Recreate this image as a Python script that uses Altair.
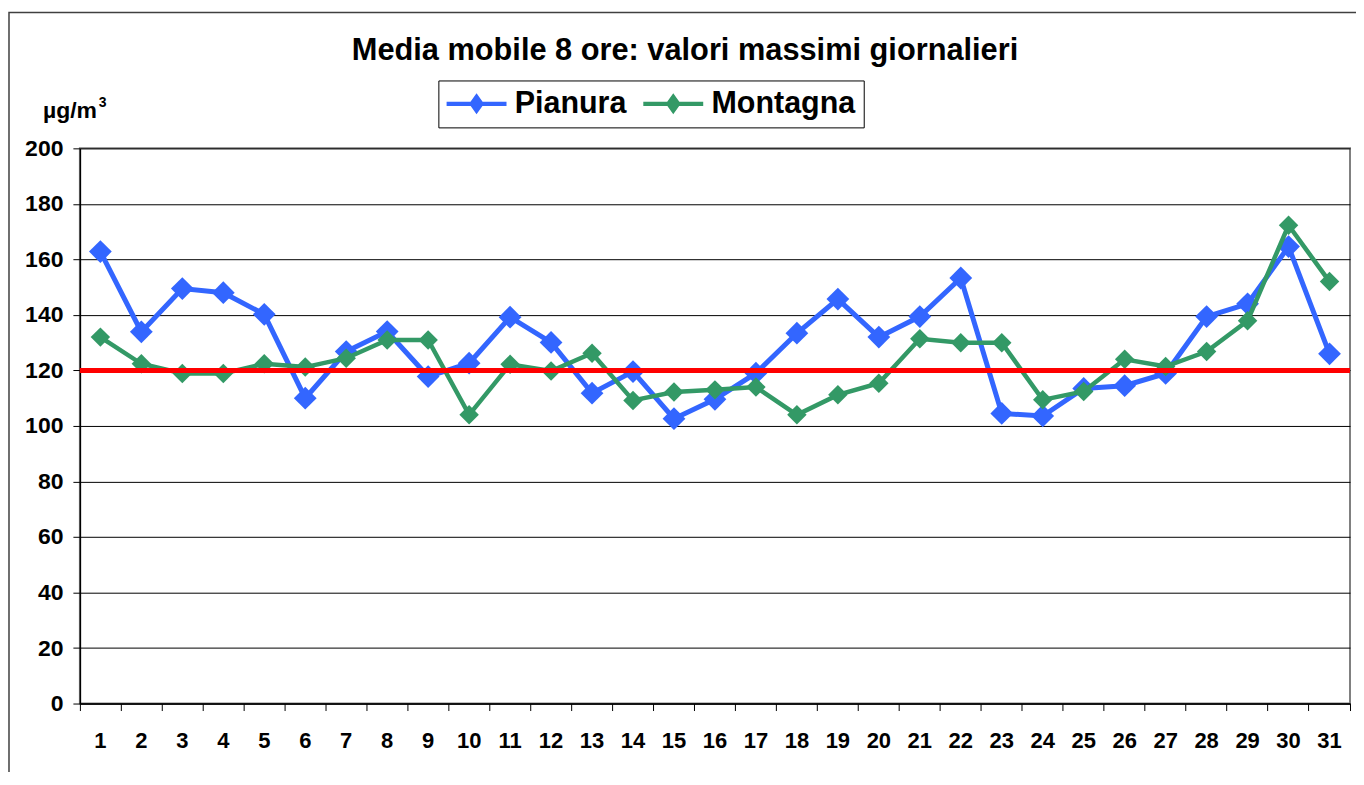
import altair as alt
import pandas as pd

days = list(range(1, 32))
pianura = [162.8, 133.9, 149.5, 148.0, 140.2, 110.0, 126.8, 134.0, 117.8, 122.6,
           139.2, 130.1, 111.8, 119.6, 102.6, 109.6, 119.0, 133.4, 145.7, 132.0,
           139.4, 153.3, 104.5, 103.6, 113.5, 114.5, 118.9, 139.4, 144.0, 164.6, 126.0]
montagna = [132.0, 122.4, 118.9, 118.9, 122.4, 121.2, 124.4, 131.0, 131.0, 104.0,
            122.2, 119.8, 126.2, 109.2, 112.2, 113.0, 114.0, 104.0, 111.2, 115.4,
            131.4, 130.0, 130.0, 109.4, 112.4, 124.0, 121.4, 126.8, 137.9, 172.3, 152.0]
series_names = ["Pianura", "Montagna"]
series_colors = ["#3366FF", "#339966"]
limit_value = [120]
y_ticks = list(range(0, 201, 20))
title_text = ["Media mobile 8 ore: valori massimi giornalieri"]
unit_text = ["µg/m"]
unit_sup = ["3"]

FONT = "Liberation Sans"

df = pd.DataFrame({
    "day": days * 2,
    "value": pianura + montagna,
    "series": [series_names[0]] * len(days) + [series_names[1]] * len(days),
})

# legend glyph: line with a diamond, drawn to the right of the symbol centre
legend_symbol = ("M-1,-0.14L3,-0.14L3,0.14L-1,0.14Z "
                 "M1,-0.7L1.5,0L1,0.7L0.5,0Z")

x_enc = alt.X("day:O", scale=alt.Scale(type="band", paddingInner=0, paddingOuter=0),
              axis=alt.Axis(title=None, labelAngle=0, labelFont=FONT, labelFontSize=22,
                            labelFontWeight="bold", labelColor="black", tickSize=7,
                            tickColor="black", domainColor="black", domainWidth=1.5,
                            bandPosition=1, tickExtra=True, labelPadding=20, grid=False))
y_enc = alt.Y("value:Q", scale=alt.Scale(domain=[0, 200], nice=False, zero=True),
              axis=alt.Axis(values=y_ticks, title=None, labelFont=FONT, labelFontSize=23,
                            labelFontWeight="bold", labelColor="black", tickSize=7,
                            tickColor="black", labelPadding=10, grid=True, gridColor="black",
                            gridWidth=1, domainColor="black", domainWidth=1.5))
color_scale = alt.Scale(domain=series_names, range=series_colors)
legend = alt.Legend(orient="none", legendX=359, legendY=-68, direction="horizontal",
                    title=None, labelFont=FONT, labelFontSize=30.5, labelFontWeight="bold",
                    labelColor="black", symbolType=legend_symbol, symbolSize=900,
                    symbolStrokeWidth=0, symbolOpacity=1, strokeColor="black", padding=8,
                    columnPadding=16, labelOffset=38, fillColor="white")
color_enc = alt.Color("series:N", scale=color_scale, legend=legend)

data_chart = alt.Chart(df).encode(x=x_enc, y=y_enc, color=color_enc)

layers = []
for name, lw, sz in [("Pianura", 5, 520), ("Montagna", 4.5, 380)]:
    sub = data_chart.transform_filter(alt.datum.series == name)
    layers.append(sub.mark_line(strokeWidth=lw, opacity=1))
    layers.append(sub.mark_point(shape="diamond", filled=True, size=sz, opacity=1))

rule = alt.Chart(pd.DataFrame({"value": limit_value})).mark_rule(
    color="#FF0000", strokeWidth=5).encode(y=alt.Y("value:Q"))

title = alt.Chart(pd.DataFrame({"t": title_text})).mark_text(
    font=FONT, fontSize=30.8, fontWeight="bold", color="black", align="center",
    baseline="alphabetic").encode(text="t:N", x=alt.value(606), y=alt.value(-88))

unit = alt.Chart(pd.DataFrame({"t": unit_text})).mark_text(
    font=FONT, fontSize=23, fontWeight="bold", color="black", align="left",
    baseline="alphabetic").encode(text="t:N", x=alt.value(-37), y=alt.value(-30))
sup = alt.Chart(pd.DataFrame({"t": unit_sup})).mark_text(
    font=FONT, fontSize=14, fontWeight="bold", color="black", align="left",
    baseline="alphabetic").encode(text="t:N", x=alt.value(19), y=alt.value(-41))

frame = alt.Chart(pd.DataFrame({"f": [0]})).mark_rect(
    fillOpacity=0, stroke="#404040", strokeWidth=1.5).encode(
    x=alt.value(-71), y=alt.value(-136), x2=alt.value(1400), y2=alt.value(900))

chart = alt.layer(frame, *layers, rule, title, unit, sup).properties(
    width=1272, height=556,
    autosize=alt.AutoSizeParams(type="none"),
    padding={"left": 72, "top": 140, "right": 6, "bottom": 68},
    background="white",
).configure_view(stroke="#808080", strokeWidth=2)

chart.save("out.html", embed_options={"renderer": "svg", "actions": False})
